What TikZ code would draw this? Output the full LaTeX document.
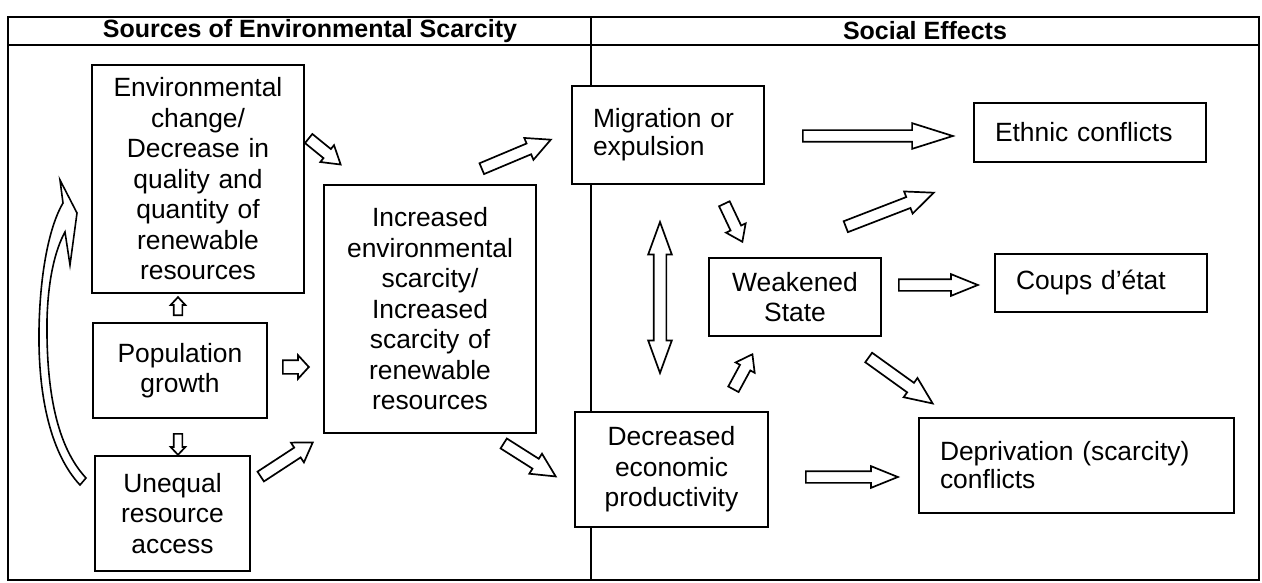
\documentclass[tikz,border=0pt]{standalone}
\usepackage{fontspec}
\setmainfont{Liberation Sans}
\usetikzlibrary{shapes.arrows,calc}
\tikzset{
  box/.style={draw, line width=2pt, fill=white, inner sep=0pt, align=center, font=\fontsize{26.4}{30.5}\selectfont},
  lbox/.style={box, align=left, inner xsep=21pt, font=\fontsize{26.4}{28}\selectfont},
  hdr/.style={font=\bfseries\fontsize{25}{28}\selectfont, inner sep=0pt},
  blk/.style={single arrow, draw, line width=1.7pt, fill=white, inner xsep=0pt, single arrow head indent=0pt},
  dblk/.style={double arrow, draw, line width=1.7pt, fill=white, inner xsep=0pt, double arrow head indent=0pt},
  frameline/.style={line width=2pt},
  sepline/.style={line width=1.3pt},
  curvearrow/.style={line width=1.6pt, fill=white, line join=miter}
}
\newcommand\barrow[5]{%
  \path let \p1=(#1), \p2=(#2), \n1={atan2(\y2-\y1,\x2-\x1)}, \n2={veclen(\x2-\x1,\y2-\y1)} in
    node[blk, inner ysep=#4pt/2, minimum height=\n2, minimum width=#3pt, single arrow head extend={(#3-#4)/2*1pt}, single arrow tip angle=#5, rotate=\n1, anchor=tail] at (\p1) {};}
\newcommand\dbarrow[5]{%
  \path let \p1=(#1), \p2=(#2), \n1={atan2(\y2-\y1,\x2-\x1)}, \n2={veclen(\x2-\x1,\y2-\y1)} in
    node[dblk, inner ysep=#4pt/2, minimum height=\n2, minimum width=#3pt, double arrow head extend={(#3-#4)/2*1pt}, double arrow tip angle=#5, rotate=\n1] at ($(\p1)!0.5!(\p2)$) {};}
\begin{document}
\begin{tikzpicture}[x=1pt,y=-1pt]
\useasboundingbox (0,0) rectangle (1262,583);
% frame
\draw[frameline] (8,17) rectangle (1259,580);
\draw[frameline] (8,45) -- (1259,45);
\draw[sepline] (591,17) -- (591,580);
\node[hdr] (h1) at (310,31) {Sources of Environmental Scarcity};
\node[hdr] (h2) at (925,31) {Social Effects};
% boxes
\node[box, minimum width=212pt, minimum height=228pt, text width=205pt] (env) at (198,179)
  {Environmental\\change/\\Decrease in\\quality and\\quantity of\\renewable\\resources};
\node[box, minimum width=174pt, minimum height=95pt, text width=165pt] (pop) at (180,370.5) {Population\\growth};
\node[box, minimum width=155pt, minimum height=115pt, text width=150pt] (uneq) at (172.5,513.5) {Unequal\\resource\\access};
\node[box, minimum width=212pt, minimum height=248pt, text width=205pt] (incr) at (430,309)
  {Increased\\environmental\\scarcity/\\Increased\\scarcity of\\renewable\\resources};
\node[lbox, minimum width=192pt, minimum height=98pt, text width=150pt] (migr) at (668,135) {Migration or\\expulsion};
\node[box, minimum width=193pt, minimum height=115pt, text width=185pt] (decr) at (671.5,469.5) {Decreased\\economic\\productivity};
\node[box, minimum width=172pt, minimum height=78pt, text width=165pt] (weak) at (795,297) {Weakened\\State};
\node[lbox, minimum width=232pt, minimum height=59pt, text width=190pt] (ethn) at (1090,132.5) {Ethnic conflicts};
\node[lbox, minimum width=212pt, minimum height=58pt, text width=170pt] (coup) at (1101,283) {Coups d’état};
\node[lbox, minimum width=315pt, minimum height=95pt, text width=273pt] (depr) at (1076.5,465.5) {Deprivation (scarcity)\\conflicts};
% arrow end points
\coordinate (a1) at (308,138);  \coordinate (a2) at (340,164);
\coordinate (b1) at (282,367);  \coordinate (b2) at (308,367);
\coordinate (c1) at (260,477);  \coordinate (c2) at (312,443);
\coordinate (d1) at (178,316);  \coordinate (d2) at (178,298);
\coordinate (e1) at (178,433);  \coordinate (e2) at (178,454);
\coordinate (f1) at (481,169);  \coordinate (f2) at (550,140);
\coordinate (g1) at (503,443);  \coordinate (g2) at (555,476);
\coordinate (h1a) at (802,136); \coordinate (h2a) at (952,136);
\coordinate (i1) at (898,285);  \coordinate (i2) at (977,285);
\coordinate (j1) at (805,477);  \coordinate (j2) at (897,477);
\coordinate (k1) at (845,227);  \coordinate (k2) at (933,193);
\coordinate (l1) at (868,357);  \coordinate (l2) at (932,403);
\coordinate (m1) at (724,203);  \coordinate (m2) at (742,241);
\coordinate (n1) at (733,390);  \coordinate (n2) at (752,355);
\coordinate (o1) at (660,222);  \coordinate (o2) at (660,373);
% block arrows
\barrow{a1}{a2}{20}{10}{64}
\barrow{b1}{b2}{22}{12}{95}
\barrow{c1}{c2}{22}{10}{66}
\barrow{d1}{d2}{13}{7}{86}
\barrow{e1}{e2}{13}{7}{86}
\barrow{f1}{f2}{22}{10}{53}
\barrow{g1}{g2}{22}{10}{53}
\barrow{h1a}{h2a}{24}{10}{35}
\barrow{i1}{i2}{20}{10}{44}
\barrow{j1}{j2}{20}{10}{44}
\barrow{k1}{k2}{22}{10}{47}
\barrow{l1}{l2}{22}{10}{47}
\barrow{m1}{m2}{20}{10}{71}
\barrow{n1}{n2}{20}{10}{71}
\dbarrow{o1}{o2}{22}{11}{40}
% curved arrow on the left
\draw[curvearrow] (60,180) -- (77,213) -- (70,265) -- (65,232)
  .. controls (55,250) and (48,280) .. (47,320)
  .. controls (46,400) and (60,450) .. (86,478) -- (80,485)
  .. controls (52,455) and (38,400) .. (39,330)
  .. controls (40,270) and (50,225) .. (63,203) -- cycle;
\end{tikzpicture}
\end{document}
